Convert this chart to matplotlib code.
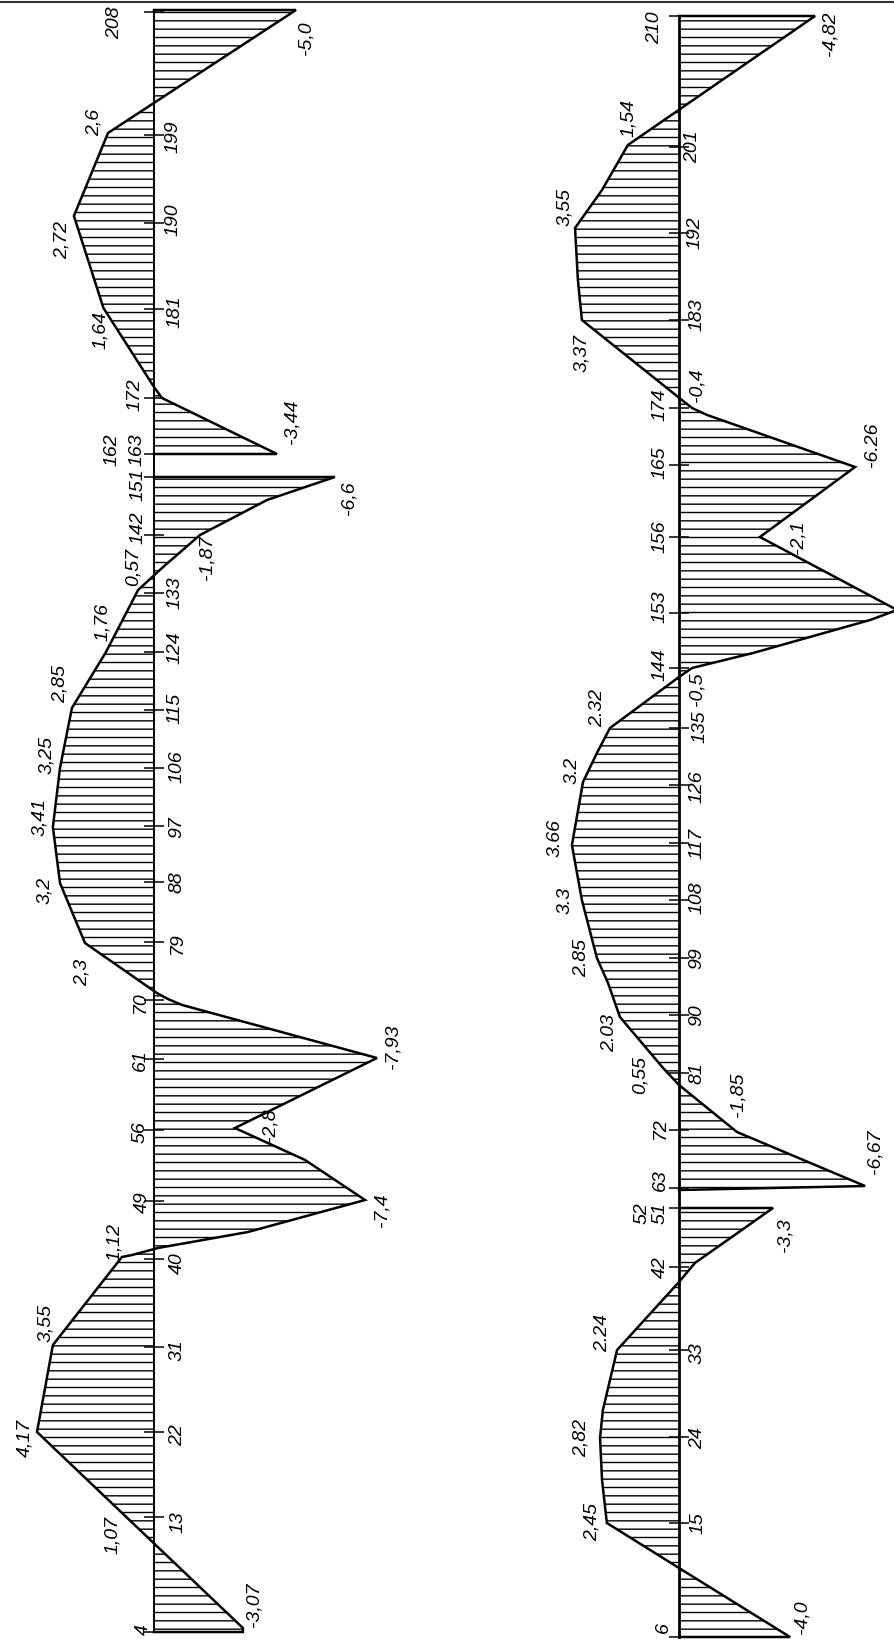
import numpy as np
import matplotlib.pyplot as plt
from matplotlib.lines import Line2D

plt.rcParams['font.family'] = ['Liberation Sans', 'DejaVu Sans']
plt.rcParams['hatch.linewidth'] = 1.0

W, H = 895, 1643
SCALE = 28.4                # px of drawing per unit of value
AXIS_L, AXIS_R = 154, 679   # px column of each reference line

# ---- left diagram: stations (drawing rows) and values, two pieces ----
left_top_s = [10, 10, 133, 216, 308, 387, 398, 454, 454]
left_top_v = [0, -5.0, 1.62, 2.82, 1.78, 0.0, -0.28, -4.33, 0]
left_bot_s = [477, 477, 500, 535, 567, 590, 652, 708, 768, 827, 883, 943,
              993, 999, 1005, 1058, 1128, 1160, 1200, 1232, 1248, 1255, 1257,
              1345, 1432, 1628, 1632, 1632]
left_bot_v = [0, -6.37, -3.98, -1.62, -0.32, 0.56, 1.69, 2.89, 3.31, 3.56, 3.31, 2.43,
              -0.1, -0.49, -0.99, -7.85, -2.85, -5.32, -7.43, -3.31, -0.14, 0.77, 1.13,
              3.56, 4.12, -3.13, -3.13, 0]

left_ticks = [12, 135, 223, 309, 398, 454, 477, 535, 593, 652, 710, 768, 826,
              882, 942, 1000, 1059, 1130, 1201, 1259, 1347, 1432, 1517, 1632]
left_tick_txt = ['208', '199', '190', '181', '172', '162', '163', '151', '142', '133',
                 '124', '115', '106', '97', '88', '79', '70', '61', '56', '49', '40',
                 '31', '22', '13', '4']
left_tick_xy = [(115, 23), (173, 137), (173, 220), (175, 312), (135, 395), (112, 450),
                (137, 450), (138, 485), (138, 528), (175, 593), (175, 648), (175, 708),
                (177, 767), (177, 827), (177, 882), (177, 943), (140, 1002), (140, 1060),
                (140, 1132), (142, 1202), (177, 1263), (177, 1350), (178, 1435),
                (178, 1522), (143, 1630)]

left_val_txt = ['-5,0', '2,6', '2,72', '1,64', '-3,44', '-6,6', '-1,87', '0,57', '1,76',
                '2,85', '3,25', '3,41', '3,2', '2,3', '-7,93', '-2,8', '-7,4', '1,12',
                '3,55', '4,17', '1,07', '-3,07']
left_val_xy = [(306, 38), (94, 122), (62, 240), (100, 330), (292, 422), (349, 498),
               (207, 558), (133, 567), (102, 622), (60, 684), (47, 755), (40, 817),
               (45, 890), (82, 972), (393, 1047), (270, 1125), (382, 1210), (114, 1242),
               (46, 1323), (25, 1438), (112, 1535), (254, 1605)]

# ---- right diagram ----
right_top_s = [16, 16, 145, 190, 228, 280, 320, 400, 408, 415, 467, 537, 610, 620,
               653, 668, 677, 728, 753, 782, 845, 900, 958, 983, 1017, 1068, 1085,
               1132, 1186, 1190]
right_top_v = [0, -4.79, 1.80, 2.71, 3.66, 3.56, 3.42, -0.1, -0.46, -0.99, -6.2, -2.85,
               -7.68, -6.73, -2.61, -0.46, 0, 2.43, 2.89, 3.38, 3.77, 3.42, 2.89, 2.5,
               2.08, 0.56, 0, -2.04, -6.55, 0]
right_bot_s = [1208, 1208, 1263, 1282, 1350, 1410, 1438, 1480, 1523, 1568, 1637, 1637]
right_bot_v = [0, -3.31, -0.56, 0, 2.18, 2.68, 2.78, 2.71, 2.54, 0, -3.91, 0]

right_ticks = [16, 147, 233, 320, 408, 465, 537, 613, 668, 728, 785, 843, 900, 958,
               1015, 1073, 1130, 1188, 1208, 1267, 1350, 1437, 1523, 1637]
right_tick_txt = ['210', '201', '192', '183', '174', '165', '156', '153', '144', '135',
                  '126', '117', '108', '99', '90', '81', '72', '63', '52', '51', '42',
                  '33', '24', '15', '6']
right_tick_xy = [(655, 28), (693, 147), (695, 233), (697, 315), (660, 405), (660, 463),
                 (660, 537), (660, 607), (660, 665), (700, 727), (697, 787), (697, 843),
                 (697, 898), (697, 958), (697, 1015), (697, 1073), (660, 1128),
                 (660, 1180), (642, 1213), (660, 1213), (660, 1267), (697, 1353),
                 (698, 1438), (698, 1523), (663, 1628)]

right_val_txt = ['-4,82', '1,54', '3,55', '3,37', '-0,4', '-6.26', '-2,1', '-0,5', '2.32',
                 '3.2', '3.66', '3.3', '2.85', '2.03', '0,55', '-1,85', '-6,67', '-3,3',
                 '2.24', '2,82', '2,45', '-4,0']
right_val_xy = [(830, 34), (628, 118), (565, 207), (582, 353), (697, 385), (872, 445),
                (798, 537), (697, 689), (598, 708), (572, 770), (555, 838), (565, 900),
                (582, 958), (610, 1033), (640, 1075), (738, 1095), (875, 1152),
                (785, 1235), (603, 1333), (581, 1438), (592, 1522), (802, 1617)]


def to_val(px, axis_px):
    return (axis_px - px) / SCALE


def draw_diagram(ax, pieces, ticks, tick_txt, tick_xy, val_txt, val_xy, axis_px, axis_lw):
    for s, v in pieces:
        ax.fill_betweenx(s, 0, v, hatch='--', facecolor='none', edgecolor='black', linewidth=0)
        ax.plot(v, s, color='black', lw=1.8, solid_joinstyle='miter')
    ax.plot([0, 0], [pieces[0][0][0], pieces[-1][0][-1]], color='black', lw=axis_lw)
    ax.hlines(ticks, -0.35, 0.35, color='black', lw=1.1)
    for txt, (px, py) in zip(list(tick_txt) + list(val_txt), list(tick_xy) + list(val_xy)):
        ax.text(to_val(px, axis_px), py, txt, rotation=90, rotation_mode='anchor',
                ha='center', va='center', fontsize=14, style='italic', clip_on=False)


fig = plt.figure(figsize=(W / 100, H / 100), dpi=100)
fig.patch.set_facecolor('white')

ax_l = fig.add_axes([0, 0, 0.5, 1])
ax_l.set_xlim(to_val(0, AXIS_L), to_val(W / 2, AXIS_L))
ax_l.set_ylim(H, 0)
ax_l.axis('off')
draw_diagram(ax_l, [(left_top_s, left_top_v), (left_bot_s, left_bot_v)],
             left_ticks, left_tick_txt, left_tick_xy, left_val_txt, left_val_xy, AXIS_L, 1.4)

ax_r = fig.add_axes([0.5, 0, 0.5, 1])
ax_r.set_xlim(to_val(W / 2, AXIS_R), to_val(W, AXIS_R))
ax_r.set_ylim(H, 0)
ax_r.axis('off')
draw_diagram(ax_r, [(right_top_s, right_top_v), (right_bot_s, right_bot_v)],
             right_ticks, right_tick_txt, right_tick_xy, right_val_txt, right_val_xy, AXIS_R, 2.0)

# dark scan edge along the top of the sheet
fig.add_artist(Line2D([0, 1], [1 - 1.5 / H, 1 - 1.5 / H], transform=fig.transFigure,
                      color='0.2', lw=1.5))

fig.savefig('out.png', dpi=100, facecolor='white')
